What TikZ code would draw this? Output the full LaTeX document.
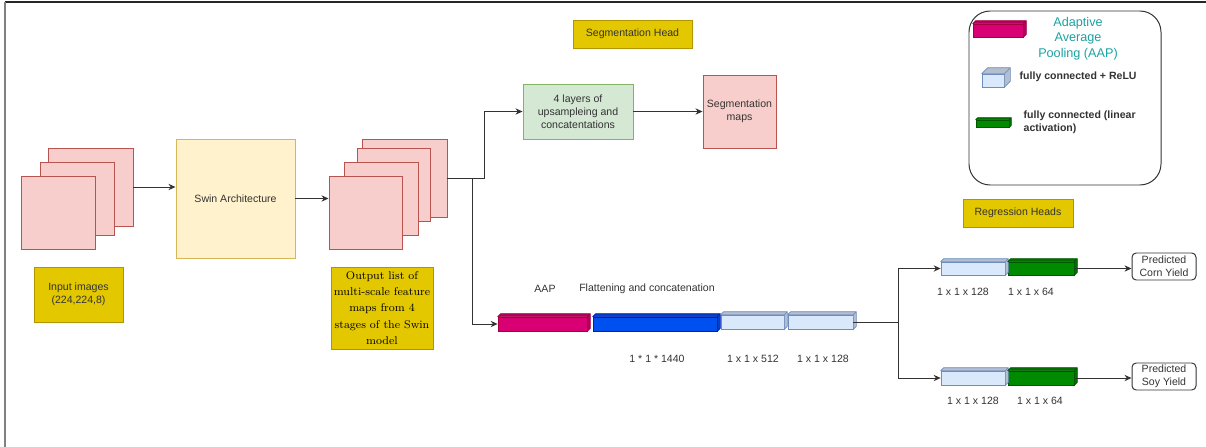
\documentclass[tikz,border=0pt]{standalone}
\usepackage{fontspec}
\setsansfont{Liberation Sans}
\usetikzlibrary{arrows.meta}
\definecolor{mapfill}{HTML}{F8CECC}
\definecolor{mapline}{HTML}{B85450}
\definecolor{swinfill}{HTML}{FFF2CC}
\definecolor{swinline}{HTML}{D6B656}
\definecolor{upfill}{HTML}{D5E8D4}
\definecolor{upline}{HTML}{82B366}
\definecolor{tagfill}{HTML}{E3C800}
\definecolor{tagline}{HTML}{B09500}
\definecolor{aapfill}{HTML}{D80073}
\definecolor{aapline}{HTML}{A50040}
\definecolor{flatfill}{HTML}{0050EF}
\definecolor{flatline}{HTML}{001DBC}
\definecolor{fcfill}{HTML}{DAE8FC}
\definecolor{fcline}{HTML}{6C8EBF}
\definecolor{linfill}{HTML}{008A00}
\definecolor{linline}{HTML}{005700}
\definecolor{legendtext}{HTML}{1BA1A1}
\tikzset{
    every node/.style={font=\sffamily\fontsize{7.5}{9.2}\selectfont,
    	text=black!80, inner sep=1pt, align=center}
}
\tikzset{
    sized/.style 2 args={minimum width=#1*0.025cm, minimum height=#2*0.025cm},
    map/.style={draw=mapline, fill=mapfill, line width=.7pt},
    tagbox/.style={draw=tagline, fill=tagfill, line width=.6pt},
    layer/.style 2 args={draw=#2, fill=#1, line width=.5pt, inner sep=0pt},
    conn/.style={draw=black!80, line width=.7pt},
    arr/.style={conn, -{Stealth[length=5pt,width=4.5pt]}}
}

\begin{document}
\begin{tikzpicture}[x=0.025cm, y=-0.025cm]
  \useasboundingbox (0,0) rectangle (1206,447);
  \draw[black!85, line width=.8pt] (5,2) -- (1206,2);
  \draw[gray, line width=.8pt] (5,2) -- (5,447);

  % input stack and swin
  \node[map, sized={85}{78}] (in1) at (90.5,187) {};
  \node[map, sized={74}{73}] (in2) at (77,198.5) {};
  \node[map, sized={74}{73}] (in3) at (58,212.5) {};
  \node[draw=swinline, fill=swinfill, line width=.7pt, sized={119}{119}] (swin) at (235.5,198.5) {Swin Architecture};
  \node[map, sized={85}{78}] (out1) at (404.5,178) {};
  \node[map, sized={73}{73}] (out2) at (393.5,184.5) {};
  \node[map, sized={74}{73}] (out3) at (381,198.5) {};
  \node[map, sized={73}{73}] (out4) at (365.5,212.5) {};
  \node[tagbox, sized={89}{55}] (intag) at (78.5,294.5) {Input images\\(224,224,8)};
  \node[tagbox, sized={102}{82}, font=\rmfamily\fontsize{8}{11.5}\selectfont, text=black]
    (outtag) at (382,308) {Output list of\\multi-scale feature\\maps from 4\\stages of the Swin\\model};

  % segmentation head
  \node[tagbox, sized={119}{28}] (seghead) at (632.5,34) {Segmentation Head};
  \node[draw=upline, fill=upfill, line width=.7pt, sized={110}{55}] (upsample) at (578,111.5)
    {4 layers of\\upsampleing and\\concatentations};
  \node[map, sized={73}{73}] (segmaps) at (739.5,111.5) {Segmentation\\maps};

  % legend
  \node[draw=black!80, line width=.7pt, rounded corners=15pt, sized={192}{174}] (legend) at (1065,98) {};
  \node[font=\sffamily\fontsize{9}{11}\selectfont, text=legendtext] (aaptext) at (1078,38.5)
    {Adaptive\\Average\\Pooling (AAP)};
  \node[anchor=west, font=\sffamily\bfseries\fontsize{7.5}{9.2}\selectfont] (fctext) at (1018,77)
    {fully connected + ReLU};
  \node[anchor=west, align=left, font=\sffamily\bfseries\fontsize{7.5}{9.5}\selectfont] (lintext) at (1022,122.5)
    {fully connected (linear\\activation)};
  \node[tagbox, sized={110}{28}] (reghead) at (1018,213) {Regression Heads};

  % layer blocks (front faces)
  \node[layer={aapfill}{aapline}, sized={50}{13}] (keyaap) at (998,30.5) {};
  \node[layer={fcfill}{fcline}, sized={22}{13}] (keyfc) at (993,80.5) {};
  \node[layer={linfill}{linline}, sized={33}{7}] (keylin) at (992.5,123.5) {};
  \node[layer={aapfill}{aapline}, sized={89}{14}] (aap) at (542.5,324) {};
  \node[layer={flatfill}{flatline}, sized={124}{14}] (flat) at (655,324) {};
  \node[layer={fcfill}{fcline}, sized={63}{14}] (fca) at (752.5,322) {};
  \node[layer={fcfill}{fcline}, sized={65}{14}] (fcb) at (820.5,322) {};
  \node[layer={fcfill}{fcline}, sized={64}{13}] (cornfc) at (973,268.5) {};
  \node[layer={linfill}{linline}, sized={66}{13}] (cornlin) at (1041,268.5) {};
  \node[layer={fcfill}{fcline}, sized={64}{14}] (soyfc) at (973,378) {};
  \node[layer={linfill}{linline}, sized={66}{14}] (soylin) at (1041,378) {};
  \foreach \nm/\fc/\sc/\dep in {keyaap/aapfill/aapline/3, keyfc/fcfill/fcline/6, keylin/linfill/linline/2,
      aap/aapfill/aapline/3, flat/flatfill/flatline/3, fca/fcfill/fcline/3, fcb/fcfill/fcline/3,
      cornfc/fcfill/fcline/3, cornlin/linfill/linline/3, soyfc/fcfill/fcline/3, soylin/linfill/linline/3}
  {
    \draw[fill=\fc!82!black, draw=\sc, line width=.5pt, line join=round]
      (\nm.north west) -- ++(\dep,-\dep) -- ([shift={(\dep,-\dep)}]\nm.north east)
      -- ([shift={(\dep,-\dep)}]\nm.south east) -- (\nm.south east) -- (\nm.north east) -- cycle
      (\nm.north east) -- ++(\dep,-\dep);
  }

  % outputs
  \node[draw=black!80, line width=.7pt, rounded corners=3pt, sized={64}{27}, inner sep=0pt] (corn) at (1164,266.5)
    {Predicted\\Corn Yield};
  \node[draw=black!80, line width=.7pt, rounded corners=3pt, sized={64}{27}, inner sep=0pt] (soy) at (1164,376.5)
    {Predicted\\Soy Yield};

  % labels
  \node (aaplbl) at (545,289) {AAP};
  \node (flatlbl) at (647,289) {Flattening and concatenation};
  \node (flatdim) at (657,359) {1 * 1 * 1440};
  \node (fcadim) at (753,359) {1 x 1 x 512};
  \node (fcbdim) at (823,359) {1 x 1 x 128};
  \node (cornfcdim) at (963,292) {1 x 1 x 128};
  \node (cornlindim) at (1031,292) {1 x 1 x 64};
  \node (soyfcdim) at (973,401) {1 x 1 x 128};
  \node (soylindim) at (1040,401) {1 x 1 x 64};

  % connectors
  \coordinate (split) at (472,178);
  \coordinate (fork) at (898,322);
  \draw[arr] (in1.east) -- (swin.west |- in1.east);
  \draw[arr] (swin.east) -- (swin.east -| out4.west);
  \draw[arr] (out1.east) -- ++(37,0) |- (upsample.west);
  \draw[arr] (split) |- (aap.west);
  \draw[arr] (upsample.east) -- (segmaps.west);
  \draw[conn] (fcb.east) -- (fork);
  \draw[arr] (fork) |- (cornfc.west);
  \draw[arr] (fork) |- (soyfc.west);
  \draw[arr] (cornlin.east) -- (cornlin.east -| corn.west);
  \draw[arr] (soylin.east) -- (soylin.east -| soy.west);
\end{tikzpicture}
\end{document}
